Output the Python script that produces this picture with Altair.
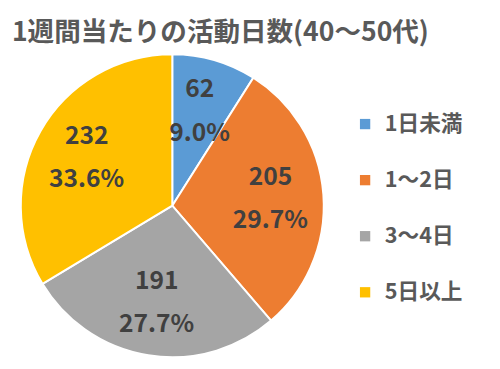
import altair as alt
import pandas as pd

categories = ["1日未満", "1～2日", "3～4日", "5日以上"]
counts = [62, 205, 191, 232]
percents = ["9.0%", "29.7%", "27.7%", "33.6%"]
colors = ["#5B9BD5", "#ED7D31", "#A5A5A5", "#FFC000"]
title_text = "1週間当たりの活動日数(40～50代)"

df = pd.DataFrame({
    "cat": categories,
    "count": counts,
    "pct": percents,
    "order": list(range(len(categories))),
})

FONT = "Noto Sans CJK JP"
CX, CY = 167, 198

base = alt.Chart(df).encode(
    theta=alt.Theta("count:Q", stack=True),
    order=alt.Order("order:Q"),
)

color = alt.Color(
    "cat:N",
    scale=alt.Scale(domain=categories, range=colors),
    sort=categories,
    legend=alt.Legend(
        title=None,
        orient="none",
        legendX=352,
        legendY=104,
        symbolType="square",
        symbolSize=110,
        symbolStrokeWidth=0,
        labelFontSize=22,
        labelFont=FONT,
        labelFontWeight="bold",
        labelColor="#595959",
        rowPadding=35,
        labelOffset=9,
    ),
)

pie = base.mark_arc(outerRadius=154, stroke="white", strokeWidth=2).encode(
    color=color,
    x=alt.value(CX),
    y=alt.value(CY),
)

num = base.mark_text(
    radius=100, dy=-22, fontSize=25, fontWeight="bold", font=FONT, color="#404040"
).encode(text="count:Q", x=alt.value(CX), y=alt.value(CY))

pct = base.mark_text(
    radius=100, dy=22, fontSize=25, fontWeight="bold", font=FONT, color="#404040"
).encode(text="pct:N", x=alt.value(CX), y=alt.value(CY))

title = alt.Chart(pd.DataFrame({"t": [title_text]})).mark_text(
    align="left", baseline="middle", fontSize=27, fontWeight="bold", font=FONT, color="#595959"
).encode(text="t:N", x=alt.value(4), y=alt.value(23))

chart = alt.layer(pie, num, pct, title).properties(
    width=492,
    height=361,
    padding=0,
    autosize=alt.AutoSizeParams(type="none"),
).configure_view(stroke=None)

chart.save("out.html", embed_options={"renderer": "svg", "actions": False})
